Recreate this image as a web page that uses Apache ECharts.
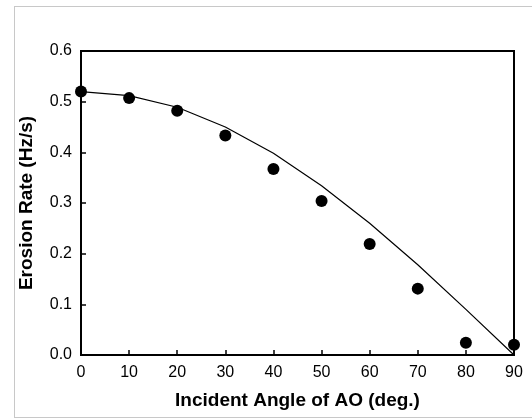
<!DOCTYPE html>
<html>
<head>
<meta charset="utf-8">
<script src="https://cdn.jsdelivr.net/npm/echarts@6/dist/echarts.min.js"></script>
<style>
  html, body { margin: 0; padding: 0; background: #fff; }
  .frame {
    position: absolute; left: 14px; top: 6px; width: 530px; height: 410px;
    border-left: 1px solid #c8c8c8; border-top: 1px solid #c8c8c8; border-bottom: 1px solid #c8c8c8;
  }
  #chart { position: absolute; left: 0; top: 0; width: 532px; height: 418px; }
</style>
</head>
<body>
<div class="frame"></div>
<div id="chart"></div>
<script>
// measured erosion rate vs incident angle
const angles = [0, 10, 20, 30, 40, 50, 60, 70, 80, 90];
const measured = [0.520, 0.507, 0.482, 0.433, 0.367, 0.304, 0.219, 0.131, 0.024, 0.020];
const errors = [0, 0.008, 0, 0, 0, 0, 0, 0, 0, 0];
// model curve
const modelAngles = [0, 10, 20, 30, 40, 50, 60, 70, 80, 90];
const model = [0.520, 0.512, 0.489, 0.450, 0.398, 0.334, 0.260, 0.178, 0.090, 0.0];

const chart = echarts.init(document.getElementById('chart'));

const font = 'Liberation Sans, Arial, sans-serif';

const option = {
  animation: false,
  grid: {
    left: 81, right: 18, top: 51, bottom: 63,
    show: true, borderColor: '#000', borderWidth: 2,
  },
  xAxis: {
    type: 'value',
    min: 0, max: 90, interval: 10,
    name: 'Incident Angle of AO (deg.)',
    nameLocation: 'middle',
    nameGap: 36,
    nameTextStyle: { fontFamily: font, fontWeight: 'bold', fontSize: 19, color: '#000' },
    axisLine: { lineStyle: { color: '#000', width: 2 } },
    axisTick: { inside: true, length: 5, lineStyle: { color: '#000', width: 1.5 } },
    axisLabel: { fontFamily: font, fontSize: 16, color: '#000', margin: 10 },
    splitLine: { show: false },
  },
  yAxis: {
    type: 'value',
    min: 0, max: 0.6, interval: 0.1,
    name: 'Erosion Rate (Hz/s)',
    nameLocation: 'middle',
    nameGap: 45,
    nameTextStyle: { fontFamily: font, fontWeight: 'bold', fontSize: 19, color: '#000' },
    axisLine: { lineStyle: { color: '#000', width: 2 } },
    axisTick: { inside: true, length: 5, lineStyle: { color: '#000', width: 1.5 } },
    axisLabel: {
      fontFamily: font, fontSize: 16, color: '#000', margin: 9,
      formatter: (v) => v.toFixed(1),
    },
    splitLine: { show: false },
  },
  series: [
    {
      name: 'model',
      type: 'line',
      data: modelAngles.map((a, i) => [a, model[i]]),
      symbol: 'none',
      lineStyle: { color: '#000', width: 1.2 },
      z: 2,
    },
    {
      name: 'error',
      type: 'custom',
      data: angles.map((a, i) => [a, measured[i] - errors[i], measured[i] + errors[i]]).filter((d, i) => errors[i] > 0),
      renderItem: (params, api) => {
        const lo = api.coord([api.value(0), api.value(1)]);
        const hi = api.coord([api.value(0), api.value(2)]);
        const w = 3;
        const style = { stroke: '#555', lineWidth: 1 };
        return {
          type: 'group',
          children: [
            { type: 'line', shape: { x1: lo[0], y1: lo[1], x2: hi[0], y2: hi[1] }, style },
            { type: 'line', shape: { x1: lo[0] - w, y1: lo[1], x2: lo[0] + w, y2: lo[1] }, style },
            { type: 'line', shape: { x1: hi[0] - w, y1: hi[1], x2: hi[0] + w, y2: hi[1] }, style },
          ],
        };
      },
      z: 3,
    },
    {
      name: 'measured',
      type: 'scatter',
      data: angles.map((a, i) => [a, measured[i]]),
      symbol: 'circle',
      symbolSize: 12,
      itemStyle: { color: '#000', opacity: 1 },
      z: 4,
    },
  ],
};

chart.setOption(option);
</script>
</body>
</html>
